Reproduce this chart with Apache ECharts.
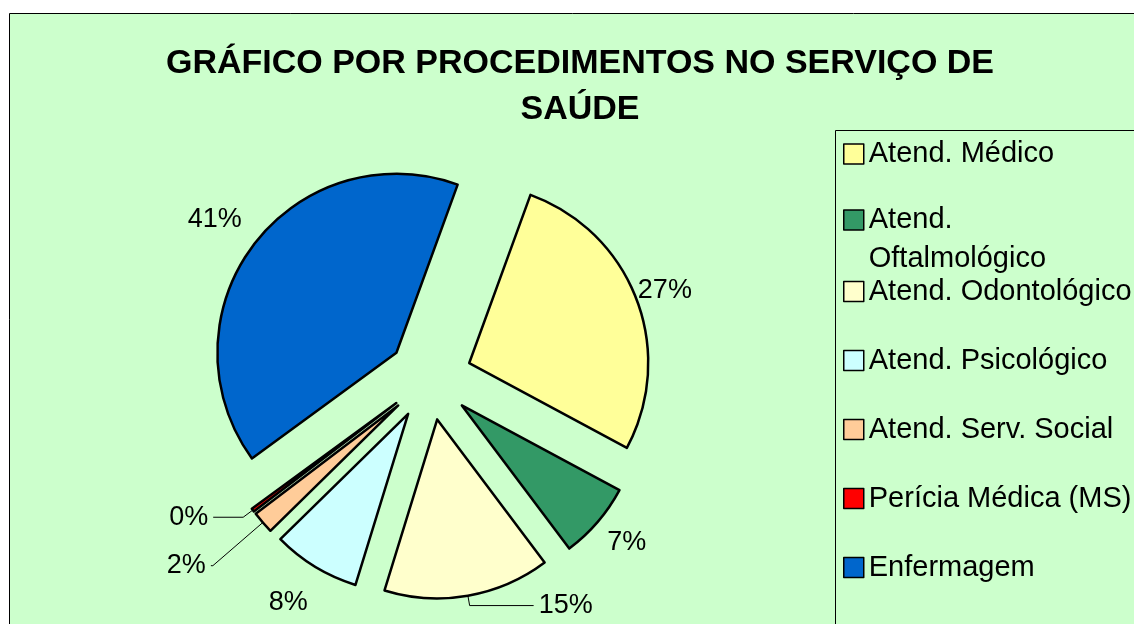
<!DOCTYPE html>
<html>
<head>
<meta charset="utf-8">
<title>Gráfico por procedimentos no serviço de saúde</title>
<script src="https://cdn.jsdelivr.net/npm/echarts@6/dist/echarts.min.js"></script>
<style>
html, body { margin: 0; padding: 0; background: #fff; }
#chart { width: 1134px; height: 624px; }
</style>
</head>
<body>
<div id="chart"></div>
<script>
// dados (percentual de cada procedimento)
const categorias = ['Atend. Médico', 'Atend. Oftalmológico', 'Atend. Odontológico', 'Atend. Psicológico',
    'Atend. Serv. Social', 'Perícia Médica (MS)', 'Enfermagem'];
const valores = [27.3, 6.9, 15.0, 7.9, 2.0, 0.3, 40.6];
const cores = ['#FFFF99', '#339966', '#FFFFCC', '#CCFFFF', '#FFCC99', '#FF0000', '#0066CC'];

// linhas de chamada dos rótulos: [mostrar, comprimento, comprimento2]
const guias = [[false, 25, 0], [false, 32, 0], [true, 10, 64], [false, 42, 0], [true, 66, 2], [true, 12, 30], [false, 42, 0]];

const fonte = 'Liberation Sans, Arial, sans-serif';

const dados = categorias.map(function (nome, i) {
    return {
        name: nome,
        value: valores[i],
        selected: true,
        itemStyle: { color: cores[i] },
        labelLine: { show: guias[i][0], length: guias[i][1], length2: guias[i][2] }
    };
});

const legendaTexto = {
    color: '#000',
    fontFamily: fonte,
    fontSize: 29,
    lineHeight: 39,
    rich: {
        w: { color: '#000', fontFamily: fonte, fontSize: 29, lineHeight: 39 }
    }
};

var myChart = echarts.init(document.getElementById('chart'));
myChart.setOption({
    animation: false,
    backgroundColor: '#fff',
    graphic: [
        {
            type: 'rect', z: -1,
            shape: { x: 9.5, y: 13.5, width: 1200, height: 700 },
            style: { fill: '#CCFFCC', stroke: '#000', lineWidth: 1 }
        },
        {
            type: 'rect', z: 1,
            shape: { x: 835.5, y: 130.5, width: 400, height: 600 },
            style: { fill: 'none', stroke: '#000', lineWidth: 1 }
        }
    ],
    title: {
        text: 'GRÁFICO POR PROCEDIMENTOS NO SERVIÇO DE\nSAÚDE',
        left: 580,
        top: 41,
        padding: 0,
        textAlign: 'center',
        textStyle: {
            fontFamily: fonte,
            fontSize: 34,
            fontWeight: 'bold',
            lineHeight: 46,
            color: '#000'
        }
    },
    legend: [
        {
            orient: 'vertical',
            left: 843,
            top: 134.5,
            padding: 0,
            itemGap: -12,
            itemWidth: 20,
            itemHeight: 20,
            icon: 'rect',
            selectedMode: false,
            itemStyle: { borderColor: '#000', borderWidth: 1.5 },
            textStyle: legendaTexto,
            formatter: function (name) {
                return name === 'Atend. Oftalmológico' ? '{w|Atend.}\n{w|Oftalmológico}' : name;
            },
            data: [
                { name: categorias[0] },
                { name: categorias[1], textStyle: { padding: [39, 0, 0, 0] } }
            ]
        },
        {
            orient: 'vertical',
            left: 843,
            top: 272,
            padding: 0,
            itemGap: 30,
            itemWidth: 20,
            itemHeight: 20,
            icon: 'rect',
            selectedMode: false,
            itemStyle: { borderColor: '#000', borderWidth: 1.5 },
            textStyle: legendaTexto,
            data: categorias.slice(2)
        }
    ],
    series: [
        {
            type: 'pie',
            center: [430, 378],
            radius: 179,
            startAngle: 70,
            clockwise: true,
            selectedMode: 'multiple',
            selectedOffset: 42,
            avoidLabelOverlap: false,
            emphasis: { disabled: true, scale: false },
            select: { itemStyle: { borderColor: '#000', borderWidth: 2.5 } },
            itemStyle: { borderColor: '#000', borderWidth: 2.5 },
            label: {
                show: true,
                position: 'outside',
                distanceToLabelLine: 5,
                fontFamily: fonte,
                fontSize: 27,
                color: '#000',
                formatter: function (p) {
                    return Math.round(p.percent) + '%';
                }
            },
            labelLine: {
                lineStyle: { color: '#000', width: 1 }
            },
            labelLayout: function (params) {
                return guias[params.dataIndex][0] ? {} : { align: 'center' };
            },
            data: dados
        }
    ]
});
</script>
</body>
</html>
